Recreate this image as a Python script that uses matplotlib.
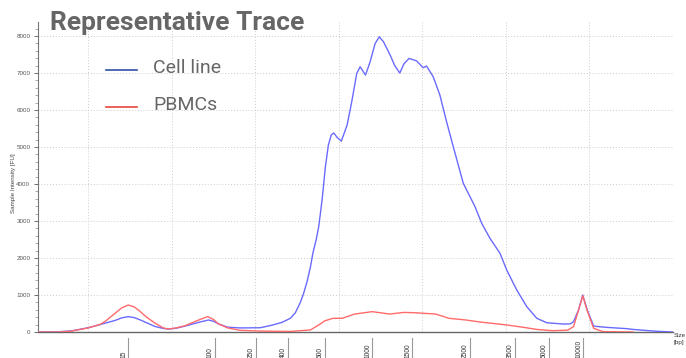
import numpy as np
import matplotlib
matplotlib.use("Agg")
import matplotlib.pyplot as plt
from matplotlib.lines import Line2D
import matplotlib.transforms as mtransforms

# migration time (s) and fluorescence (FU) for the two traces
cell_t = [24.0, 26.4, 28.0, 30.0, 31.4, 33.2, 34.0, 34.8, 35.5, 36.2, 37.0, 38.0,
          39.0, 39.6, 40.5, 41.6, 43.4, 44.4, 45.0, 45.6, 46.7, 48.2, 50.6, 52.1,
          53.2, 54.2, 54.8, 55.4, 55.8, 56.2, 56.6, 56.9, 57.3, 57.6, 58.0, 58.4,
          58.75, 59.1, 59.4, 59.8,
          60.3, 61.0, 61.55, 62.15, 62.55, 62.9, 63.2, 63.75, 64.35, 64.85, 65.35,
          66.15, 66.7, 67.3, 67.8, 68.4, 69.3, 70.1, 70.5, 71.3, 72.1, 72.9, 73.7,
          74.9, 76.3, 77.1, 78.1, 79.3, 80.1, 81.3, 82.5, 83.7, 84.9, 86.9, 87.7,
          88.1, 88.7, 89.2, 89.7, 90.5, 91.3, 92.1, 94.5, 95.2, 98.0, 100.0]
cell_fu = [0, 5, 30, 115, 200, 310, 380, 415, 390, 330, 250, 150,
           95, 80, 100, 160, 270, 325, 290, 220, 130, 110, 115, 190,
           260, 370, 520, 800, 1050, 1360, 1750, 2130, 2500, 2850, 3570, 4470,
           5050, 5330, 5380, 5260,
           5160, 5595, 6225, 6990, 7170, 7050, 6945, 7305, 7800, 7980, 7845,
           7485, 7200, 7000, 7250, 7395, 7330, 7145, 7190, 6900, 6405, 5685, 5010,
           4020, 3390, 2940, 2530, 2125, 1675, 1135, 685, 370, 250, 215, 220,
           280, 600, 1000, 620, 160, 140, 125, 90, 70, 20, 0]

pbmc_t = [24.0, 26.4, 27.9, 30.0, 31.4, 32.0, 33.2, 34.0, 34.8, 35.5, 36.2, 37.0,
          38.0, 39.0, 39.6, 40.5, 41.6, 43.4, 44.3, 45.0, 45.6, 46.7, 48.2, 50.6,
          54.2, 56.6, 57.6, 58.3, 59.3, 60.4, 61.9, 64.0, 66.1, 67.8, 69.2, 71.6,
          73.2, 75.2, 76.9, 80.1, 82.0, 83.7, 85.6, 87.4, 88.1, 88.7, 89.2, 89.7,
          90.5, 91.6, 95.2]
pbmc_fu = [0, 0, 20, 110, 200, 280, 500, 650, 730, 680, 560, 400,
           240, 110, 80, 110, 170, 340, 415, 340, 220, 110, 45, 25,
           15, 55, 190, 300, 370, 370, 485, 550, 485, 530, 520, 485,
           370, 325, 270, 190, 130, 70, 35, 50, 145, 595, 980, 595,
           100, 10, 0]

# ladder sizes (bp) and where they fall on the time axis
size_labels = ["15", "100", "250", "400", "600", "1000", "1500", "2500",
               "3500", "5000", "10000"]
size_pos = [34.82, 45.2, 50.1, 53.97, 58.36, 64.02, 68.81, 75.71, 81.1, 85.2, 89.27]

W, H = 686, 358
fig = plt.figure(figsize=(W / 100, H / 100), dpi=100)
ax = fig.add_axes([38 / W, 26 / H, 635 / W, 310 / H])

ax.plot(cell_t, cell_fu, color="#6a6aff", lw=1.0, zorder=3)
ax.plot(pbmc_t, pbmc_fu, color="#ff6a6a", lw=1.0, zorder=3)

ax.set_xlim(24, 100)
ax.set_ylim(0, 8380)
ax.set_xticks(np.arange(30, 101, 10))
ax.tick_params(axis="x", length=0, labelbottom=False)
ax.set_yticks(np.arange(0, 8001, 1000))
ax.set_yticks(np.arange(0, 8300, 200), minor=True)
ax.tick_params(axis="y", which="major", length=3, width=0.6, color="#555555",
               labelsize=4.5, labelcolor="#555555", pad=2.5)
ax.tick_params(axis="y", which="minor", length=2, width=0.5, color="#888888")
for lab in ax.get_yticklabels():
    lab.set_family("Liberation Sans")

ax.grid(True, which="major", ls=(0, (1, 2)), lw=0.7, color="#cccccc")
for s in ["top", "right"]:
    ax.spines[s].set_visible(False)
ax.spines["left"].set_color("#777777")
ax.spines["bottom"].set_color("#666666")
ax.spines["left"].set_linewidth(0.8)
ax.spines["bottom"].set_linewidth(1.0)

fig.text(14 / W, 1 - 183 / H, "Sample Intensity [FU]", fontsize=4.5,
         color="#444444", family="Liberation Sans", rotation=90,
         ha="center", va="center")

# ladder size marks below the axis
trans = mtransforms.blended_transform_factory(ax.transData, ax.transAxes)
txt_off = mtransforms.offset_copy(trans, fig=fig, x=-1.2, y=0, units="dots")
for lab, p in zip(size_labels, size_pos):
    ax.plot([p, p], [-6 / 310, -0.1], transform=trans, color="#999999",
            lw=0.8, clip_on=False)
    ax.text(p, -25.5 / 310, lab, transform=txt_off, rotation=90, ha="right",
            va="bottom", fontsize=4.8, color="#333333", family="Liberation Sans")

fig.text(674 / W, 1 - 339 / H, "Size\n[bp]", fontsize=4.5, color="#333333",
         family="Liberation Sans", ha="left", va="center", linespacing=1.3)

fig.text(50 / W, 1 - 23 / H, "Representative Trace", fontsize=19,
         fontweight="bold", color="#666666", family="Roboto", va="center")

# legend drawn by hand
for y, col, name in [(70, "#2f52a5", "Cell line"), (107, "#e8473c", "PBMCs")]:
    fig.add_artist(Line2D([106 / W, 137 / W], [1 - y / H, 1 - y / H],
                          color=col, lw=1.2))
    fig.text(153 / W, 1 - (y - 2) / H, name, fontsize=14, color="#666666",
             family="Roboto", va="center")

fig.savefig("out.png", dpi=100)
